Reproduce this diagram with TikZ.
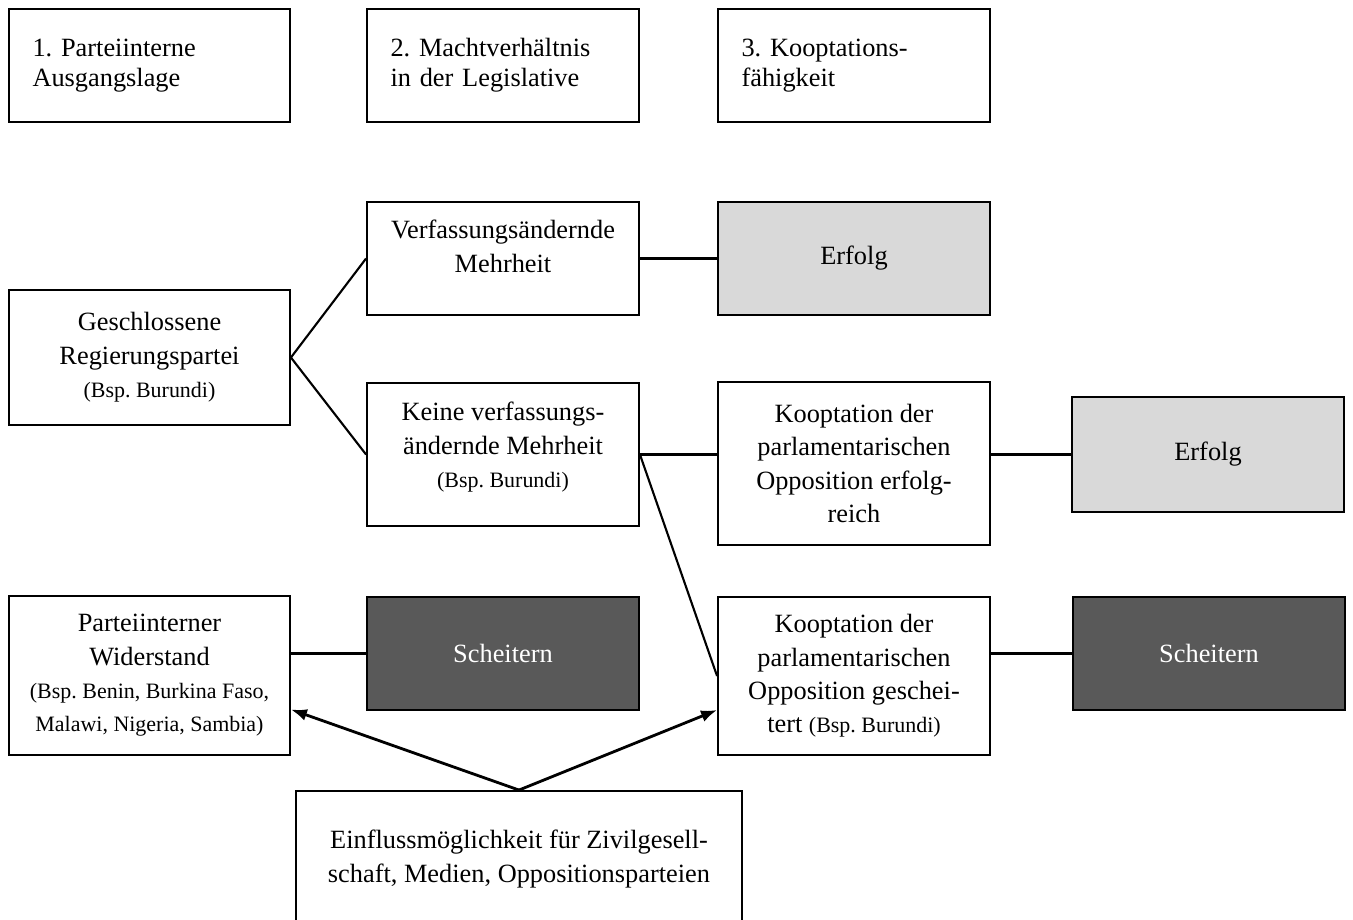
\documentclass[tikz,border=0pt]{standalone}
\usepackage{fontspec}
\setmainfont{Liberation Serif}
\usetikzlibrary{arrows.meta, positioning, calc}
\definecolor{lightfill}{RGB}{217, 217, 217}
\definecolor{darkfill}{RGB}{89, 89, 89}
\newcommand{\bsp}[1]{{\fontsize{12.5}{19}\selectfont #1}}
\frenchspacing

\begin{document}
\begin{tikzpicture}[
            x=0.02cm, y=-0.02cm,
            box/.style={draw, line width=1.1pt, minimum width=5.44cm, minimum height=2.26cm, align=center, inner sep=2pt, font=\fontsize{15}{19}\selectfont},
            widebox/.style={box, minimum width=5.62cm},
            header/.style={box, align=left, text width=4.5cm, inner xsep=0.47cm, minimum width=0pt, font=\fontsize{15}{17}\selectfont},
            good/.style={box, fill=lightfill},
            bad/.style={box, fill=darkfill, text=white},
            line/.style={line width=1.2pt},
            arrow/.style={-{Latex[length=3.2mm, width=2.4mm]}, line width=1.6pt}
        ]
            \useasboundingbox (0,0) rectangle (1353,920);

            % header row
            \node[header, text width=4.68cm] (lage) at (149.5,65.5) {1. Parteiinterne\\Ausgangslage};
            \node[header] (macht) at (503,65.5) {2. Machtverh\"altnis\\in der Legislative};
            \node[header] (koop) at (854,65.5) {3. Kooptations-\\f\"ahigkeit};

            % main tree
            \node[widebox, minimum height=2.7cm] (geschl) at (149.5,357.5) {Geschlossene\\Regierungspartei\\\bsp{(Bsp. Burundi)}};
            \node[box] (mehr) at (503,258.5) {Verfassungs\"andernde\\Mehrheit\\[-0.17cm]};
            \node[good] (erfolgA) at (854,258.5) {Erfolg};
            \node[box, minimum height=2.86cm] (keine) at (503,454.5) {Keine verfassungs-\\\"andernde Mehrheit\\\bsp{(Bsp. Burundi)}\\[-0.29cm]};
            \node[box, minimum height=3.26cm] (koopok) at (854,463.5) {Kooptation der\\parlamentarischen\\Opposition erfolg-\\reich};
            \node[good, minimum height=2.3cm] (erfolgB) at (1208,454.5) {Erfolg};
            \node[widebox, minimum height=3.18cm] (widerstand) at (149.5,675.5) {Parteiinterner\\Widerstand\\\bsp{(Bsp. Benin, Burkina Faso,}\\\bsp{Malawi, Nigeria, Sambia)}};
            \node[bad] (scheitA) at (503,653.5) {Scheitern};
            \node[box, minimum height=3.16cm] (koopfail) at (854,676) {Kooptation der\\parlamentarischen\\Opposition geschei-\\tert \bsp{(Bsp. Burundi)}};
            \node[bad] (scheitB) at (1209,653.5) {Scheitern};
            \node[box, minimum width=8.92cm, minimum height=2.72cm] (einfluss) at (519,859) {Einflussm\"oglichkeit f\"ur Zivilgesell-\\schaft, Medien, Oppositionsparteien};

            \draw[line] (geschl.east) -- (mehr.west);
            \draw[line] (geschl.east) -- (keine.west);
            \draw[line] (mehr.east) -- (erfolgA.west);
            \draw[line] (keine.east) -- (keine.east -| koopok.west);
            \draw[line] (koopok.east |- erfolgB.west) -- (erfolgB.west);
            \draw[line] (keine.east) -- (koopfail.west);
            \draw[line] (widerstand.east |- scheitA.west) -- (scheitA.west);
            \draw[line] (koopfail.east |- scheitB.west) -- (scheitB.west);

            \draw[arrow] (einfluss.north) -- ([yshift=-0.68cm]widerstand.east);
            \draw[arrow] (einfluss.north) -- ([yshift=-0.68cm]koopfail.west);
        \end{tikzpicture}
\end{document}
